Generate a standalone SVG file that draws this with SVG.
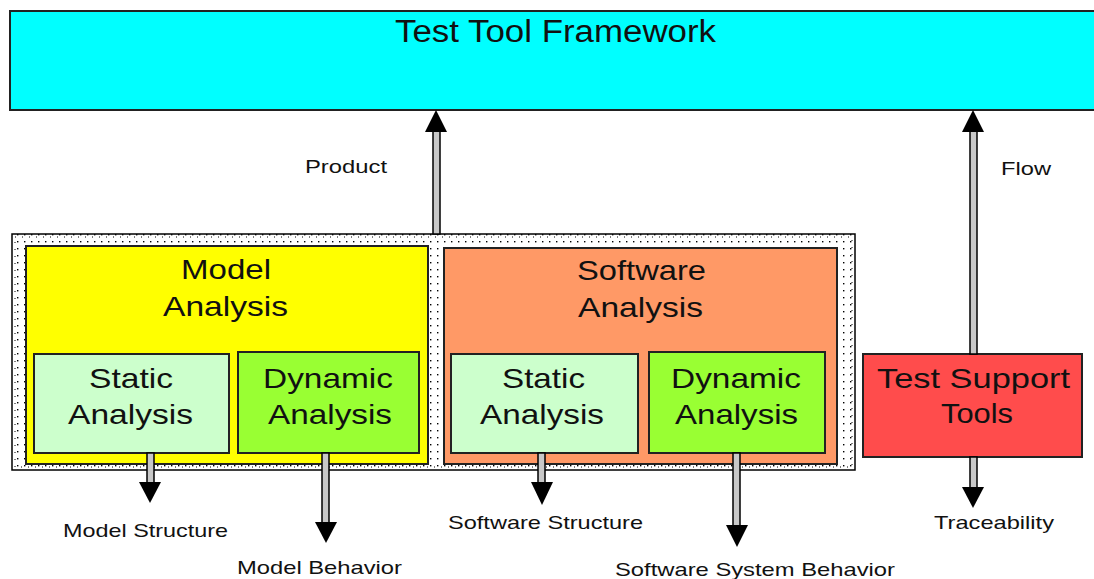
<svg xmlns="http://www.w3.org/2000/svg" width="1094" height="579" viewBox="0 0 1094 579">
  <defs>
    <pattern id="dots" x="0" y="0" width="7" height="7" patternUnits="userSpaceOnUse">
      <rect width="7" height="7" fill="#ffffff"/>
      <rect x="3" y="3" width="1.4" height="1.4" fill="#000000"/>
    </pattern>
    <!-- Hollow double-line shaft with filled triangular head -->
    <marker id="head" viewBox="0 0 22 22" refX="11" refY="22" markerWidth="22" markerHeight="22" markerUnits="userSpaceOnUse" orient="auto-start-reverse">
      <path d="M0,0 L22,0 L11,22 Z" fill="#000000"/>
    </marker>
  </defs>
  <style>
    .box { stroke: #222222; stroke-width: 2; }
    .lbl { font-family: "Liberation Sans", Arial, sans-serif; fill: #111111; text-anchor: start; }
    .big { font-size: 28px; }
    .small { font-size: 19px; }
    .shaft { fill: #c8c8c8; stroke: #000000; stroke-width: 1.5; }
    .tip { fill: #000000; }
  </style>

  <rect width="1094" height="579" fill="#ffffff"/>

  <!-- Framework banner -->
  <g id="framework">
    <rect x="10" y="11" width="1090" height="99" fill="#00ffff" class="box"/>
    <text class="lbl" x="395" y="42" font-size="31" textLength="321" lengthAdjust="spacingAndGlyphs">Test Tool Framework</text>
  </g>

  <!-- Dotted container holding both analysis groups -->
  <g id="analysis-container">
    <rect x="12" y="234" width="843" height="236" fill="url(#dots)" stroke="#000000" stroke-width="1.5"/>
    <rect x="15" y="237" width="837" height="230" fill="none" stroke="#000000" stroke-width="1" stroke-dasharray="1 6"/>
  </g>

  <g id="model-analysis">
    <rect x="26" y="246" width="402" height="218" fill="#ffff00" class="box"/>
    <text class="lbl big" x="181" y="279" textLength="90" lengthAdjust="spacingAndGlyphs">Model</text>
    <text class="lbl big" x="163" y="316" textLength="125" lengthAdjust="spacingAndGlyphs">Analysis</text>
  </g>

  <g id="model-static">
    <rect x="34" y="354" width="195" height="99" fill="#ccffcc" class="box"/>
    <text class="lbl big" x="89" y="388" textLength="84" lengthAdjust="spacingAndGlyphs">Static</text>
    <text class="lbl big" x="68" y="424" textLength="125" lengthAdjust="spacingAndGlyphs">Analysis</text>
  </g>

  <g id="model-dynamic">
    <rect x="238" y="352" width="181" height="101" fill="#99ff33" class="box"/>
    <text class="lbl big" x="263" y="388" textLength="130" lengthAdjust="spacingAndGlyphs">Dynamic</text>
    <text class="lbl big" x="268" y="424" textLength="124" lengthAdjust="spacingAndGlyphs">Analysis</text>
  </g>

  <g id="software-analysis">
    <rect x="444" y="248" width="393" height="216" fill="#ff9966" class="box"/>
    <text class="lbl big" x="577" y="280" textLength="129" lengthAdjust="spacingAndGlyphs">Software</text>
    <text class="lbl big" x="578" y="317" textLength="125" lengthAdjust="spacingAndGlyphs">Analysis</text>
  </g>

  <g id="software-static">
    <rect x="451" y="354" width="187" height="99" fill="#ccffcc" class="box"/>
    <text class="lbl big" x="502" y="388" textLength="83" lengthAdjust="spacingAndGlyphs">Static</text>
    <text class="lbl big" x="480" y="424" textLength="124" lengthAdjust="spacingAndGlyphs">Analysis</text>
  </g>

  <g id="software-dynamic">
    <rect x="649" y="352" width="176" height="101" fill="#99ff33" class="box"/>
    <text class="lbl big" x="671" y="388" textLength="130" lengthAdjust="spacingAndGlyphs">Dynamic</text>
    <text class="lbl big" x="675" y="424" textLength="123" lengthAdjust="spacingAndGlyphs">Analysis</text>
  </g>

  <g id="test-support-tools">
    <rect x="863" y="354" width="219" height="103" fill="#ff4c4c" class="box"/>
    <text class="lbl big" x="877" y="388" textLength="193" lengthAdjust="spacingAndGlyphs">Test Support</text>
    <text class="lbl big" x="941" y="423" textLength="72" lengthAdjust="spacingAndGlyphs">Tools</text>
  </g>

  <!-- Connectors: hollow shafts with solid heads -->
  <g id="connectors">
    <!-- Product: container up to framework -->
    <rect class="shaft" x="433" y="131" width="7" height="103"/>
    <path class="tip" d="M425,132 L447,132 L436,110 Z"/>
    <!-- Flow: test support tools up to framework -->
    <rect class="shaft" x="970" y="131" width="7" height="223"/>
    <path class="tip" d="M962,132 L984,132 L973,110 Z"/>
    <!-- Traceability -->
    <rect class="shaft" x="970" y="457" width="7" height="31"/>
    <path class="tip" d="M962,487 L984,487 L973,508 Z"/>
    <!-- Model structure -->
    <rect class="shaft" x="147" y="453" width="7" height="30"/>
    <path class="tip" d="M139,482 L161,482 L150,503 Z"/>
    <!-- Model behavior -->
    <rect class="shaft" x="322" y="453" width="7" height="70"/>
    <path class="tip" d="M315,522 L337,522 L326,543 Z"/>
    <!-- Software structure -->
    <rect class="shaft" x="538" y="453" width="7" height="30"/>
    <path class="tip" d="M531,482 L553,482 L542,505 Z"/>
    <!-- Software system behavior -->
    <rect class="shaft" x="733" y="453" width="7" height="73"/>
    <path class="tip" d="M726,525 L748,525 L737,547 Z"/>
  </g>

  <!-- Connector labels -->
  <g id="labels">
    <text class="lbl small" x="305" y="173" textLength="82" lengthAdjust="spacingAndGlyphs">Product</text>
    <text class="lbl small" x="1001" y="175" textLength="50" lengthAdjust="spacingAndGlyphs">Flow</text>
    <text class="lbl small" x="934" y="529" textLength="120" lengthAdjust="spacingAndGlyphs">Traceability</text>
    <text class="lbl small" x="63" y="537" textLength="165" lengthAdjust="spacingAndGlyphs">Model Structure</text>
    <text class="lbl small" x="237" y="574" textLength="165" lengthAdjust="spacingAndGlyphs">Model Behavior</text>
    <text class="lbl small" x="448" y="529" textLength="195" lengthAdjust="spacingAndGlyphs">Software Structure</text>
    <text class="lbl small" x="615" y="576" textLength="280" lengthAdjust="spacingAndGlyphs">Software System Behavior</text>
  </g>
</svg>
